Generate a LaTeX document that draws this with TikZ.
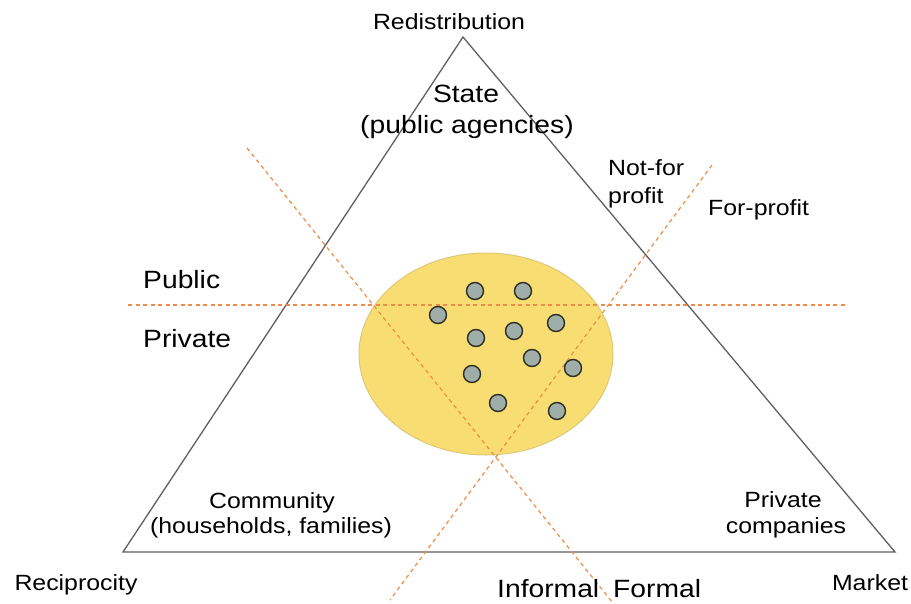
\documentclass[tikz,border=0pt]{standalone}
\usepackage{fontspec}
\setmainfont[FakeStretch=1.13]{Liberation Sans}
\usetikzlibrary{shapes.geometric}
\definecolor{triline}{RGB}{95,95,95}
\definecolor{dashcol}{RGB}{238,140,70}
\definecolor{ellfill}{RGB}{248,222,114}
\definecolor{elldraw}{RGB}{222,200,120}
\definecolor{dotfill}{RGB}{160,174,170}
\definecolor{dotdraw}{RGB}{45,45,35}
\tikzset{
  small/.style={font=\fontsize{22}{26}\selectfont, inner sep=0pt, anchor=base},
  big/.style={font=\fontsize{25}{29}\selectfont, inner sep=0pt, anchor=base},
  divider/.style={draw=dashcol, line width=1.2pt, dash pattern=on 4pt off 3.5pt},
  dotnode/.style={circle, draw=dotdraw, fill=dotfill, line width=1.4pt, minimum size=17pt, inner sep=0pt},
}
\begin{document}
\begin{tikzpicture}[x=1pt,y=-1pt]
\useasboundingbox (0,0) rectangle (911,603);
% triangle
\coordinate (top) at (463,37);
\coordinate (bl) at (123,552);
\coordinate (br) at (895,552);
% ellipse
\node[ellipse, draw=elldraw, fill=ellfill, line width=1pt, minimum width=254pt, minimum height=202pt, inner sep=0pt] (ell) at (486,354) {};
\draw[triline, line width=1.3pt, line join=miter] (top) -- (bl) -- (br) -- cycle;
% dashed dividers
\coordinate (hl) at (128,305);
\coordinate (hr) at (845,305);
\coordinate (d1a) at (247,148);
\coordinate (d1b) at (613,603);
\coordinate (d2a) at (712,165);
\coordinate (d2b) at (390,600);
\draw[divider] (hl) -- (hr);
\draw[divider] (d1a) -- (d1b);
\draw[divider] (d2a) -- (d2b);
% dots
\node[dotnode] (p1) at (475,291) {};
\node[dotnode] (p2) at (523,291) {};
\node[dotnode] (p3) at (438,315) {};
\node[dotnode] (p4) at (476,338) {};
\node[dotnode] (p5) at (514,331) {};
\node[dotnode] (p6) at (556,323) {};
\node[dotnode] (p7) at (532,358) {};
\node[dotnode] (p8) at (573,368) {};
\node[dotnode] (p9) at (472,374) {};
\node[dotnode] (p10) at (498,403) {};
\node[dotnode] (p11) at (557,411) {};
% labels
\node[small] (redis) at (449,29) {Redistribution};
\node[big] (state) at (466,102) {State};
\node[big] (pubag) at (467,133) {(public agencies)};
\node[small, anchor=base west] (nfp1) at (608,175) {Not-for};
\node[small, anchor=base west] (nfp2) at (608,203) {profit};
\node[small, anchor=base west] (fp) at (708,215) {For-profit};
\node[big, anchor=base west] (public) at (143,288) {Public};
\node[big, anchor=base west] (private) at (143,347) {Private};
\node[small] (comm1) at (272,508) {Community};
\node[small] (comm2) at (271,533) {(households, families)};
\node[small] (pc1) at (783,507) {Private};
\node[small] (pc2) at (786,533) {companies};
\node[small] (recip) at (76,590) {Reciprocity};
\node[small] (market) at (870,590) {Market};
\node[big, anchor=base west] (informal) at (497,597) {Informal};
\node[big, anchor=base west] (formal) at (613,597) {Formal};
\end{tikzpicture}
\end{document}
